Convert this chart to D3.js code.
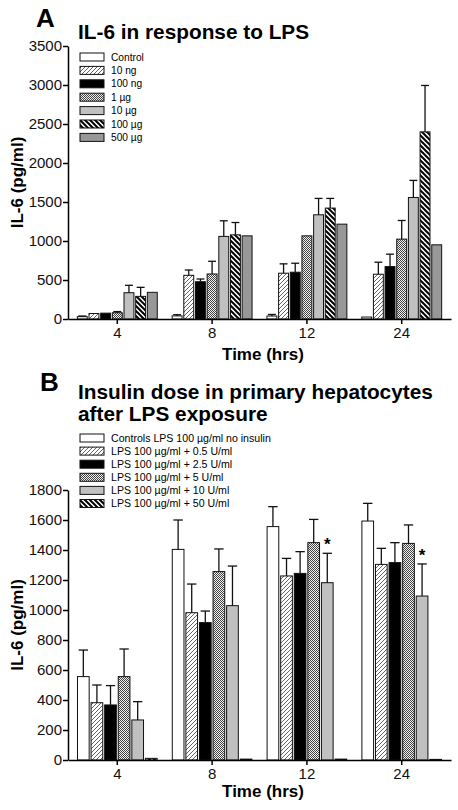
<!DOCTYPE html>
<html>
<head>
<meta charset="utf-8">
<script src="https://cdn.jsdelivr.net/npm/d3@7/dist/d3.min.js"></script>
<style>
  html, body { margin: 0; padding: 0; background: #fff; }
  svg { display: block; font-family: "Liberation Sans", Arial, Helvetica, sans-serif; }
</style>
</head>
<body>
<svg id="chart" width="458" height="810"></svg>
<script>
// ---------------- DATA ----------------
const timesA = ["4", "8", "12", "24"];
const seriesA = ["Control", "10 ng", "100 ng", "1 µg", "10 µg", "100 µg", "500 µg"];
const valuesA = [
  [30, 40, 38, 25],        // Control
  [70, 560, 587, 574],     // 10 ng
  [75, 478, 600, 672],     // 100 ng
  [80, 577, 1066, 1024],   // 1 µg
  [337, 1059, 1336, 1558], // 10 µg
  [290, 1079, 1422, 2399], // 100 µg
  [342, 1066, 1216, 951]   // 500 µg
];
const errorsA = [
  [8, 15, 20, null],
  [null, 68, 120, 154],
  [null, 35, 115, 159],
  [15, 163, null, 239],
  [95, 200, 210, 219],
  [116, 158, 124, 595],
  [null, null, null, null]
];
const ticksA = [0, 500, 1000, 1500, 2000, 2500, 3000, 3500];

const timesB = ["4", "8", "12", "24"];
const seriesB = [
  "Controls LPS 100 µg/ml no insulin",
  "LPS 100 µg/ml + 0.5 U/ml",
  "LPS 100 µg/ml + 2.5 U/ml",
  "LPS 100 µg/ml + 5 U/ml",
  "LPS 100 µg/ml + 10 U/ml",
  "LPS 100 µg/ml + 50 U/ml"
];
const valuesB = [
  [556, 1404, 1556, 1593],
  [382, 982, 1227, 1304],
  [367, 916, 1244, 1316],
  [556, 1256, 1449, 1444],
  [267, 1029, 1182, 1093],
  [11, 6, 6, 4]
];
const errorsB = [
  [177, 196, 133, 118],
  [118, 191, 117, 107],
  [129, 77, 145, 133],
  [184, 151, 155, 123],
  [122, 264, 196, 214],
  [null, null, null, null]
];
const signifB = [
  [false, false, false, false],
  [false, false, false, false],
  [false, false, false, false],
  [false, false, false, false],
  [false, false, true, true],
  [false, false, false, false]
];
const ticksB = [0, 200, 400, 600, 800, 1000, 1200, 1400, 1600, 1800];

// fill styles per series (keys to patterns)
const fillsA = ["white", "url(#diag)", "black", "url(#check)", "#c0c0c0", "url(#stripe)", "#989898"];
const fillsB = ["white", "url(#diag)", "black", "url(#check)", "#c0c0c0", "url(#stripe)"];

// ---------------- SETUP ----------------
const svg = d3.select("#chart");
const defs = svg.append("defs");

// thin "/" diagonal hatching on white
const pDiag = defs.append("pattern").attr("id", "diag").attr("patternUnits", "userSpaceOnUse")
  .attr("width", 4).attr("height", 4);
pDiag.append("rect").attr("width", 4).attr("height", 4).attr("fill", "white");
pDiag.append("path").attr("d", "M-1,1 l2,-2 M0,4 l4,-4 M3,5 l2,-2")
  .attr("stroke", "#222").attr("stroke-width", 0.7);

// fine checkerboard
const pCheck = defs.append("pattern").attr("id", "check").attr("patternUnits", "userSpaceOnUse")
  .attr("width", 2).attr("height", 2);
pCheck.append("rect").attr("width", 2).attr("height", 2).attr("fill", "#f0f0f0");
pCheck.append("rect").attr("x", 0).attr("y", 0).attr("width", 1).attr("height", 1).attr("fill", "#444");
pCheck.append("rect").attr("x", 1).attr("y", 1).attr("width", 1).attr("height", 1).attr("fill", "#444");

// thick "\" black/white stripes
const pStripe = defs.append("pattern").attr("id", "stripe").attr("patternUnits", "userSpaceOnUse")
  .attr("width", 5).attr("height", 5);
pStripe.append("rect").attr("width", 5).attr("height", 5).attr("fill", "white");
pStripe.append("path").attr("d", "M-1,4 l2,2 M0,0 l5,5 M4,-1 l2,2")
  .attr("stroke", "black").attr("stroke-width", 2);

const FONT_TICK = 15;

function drawPanel(opts) {
  const g = svg.append("g");
  const x0 = d3.scaleBand().domain(opts.times).range(opts.xRange)
    .paddingInner(0.12).paddingOuter(0.08);
  const x1 = d3.scaleBand().domain(d3.range(opts.series.length)).range([0, x0.bandwidth()])
    .padding(opts.innerPad);
  const y = d3.scaleLinear().domain(opts.yDomain).range(opts.yRange);

  // bars
  opts.series.forEach((s, si) => {
    const gs = g.append("g");
    gs.selectAll("rect").data(opts.values[si]).join("rect")
      .attr("x", (d, i) => x0(opts.times[i]) + x1(si))
      .attr("y", d => y(d))
      .attr("width", x1.bandwidth())
      .attr("height", d => y(0) - y(d))
      .attr("fill", opts.fills[si])
      .attr("stroke", "#111")
      .attr("stroke-width", 1);
    // error bars
    opts.values[si].forEach((v, i) => {
      const e = opts.errors[si][i];
      if (e == null) return;
      const cx = x0(opts.times[i]) + x1(si) + x1.bandwidth() / 2;
      const capW = x1.bandwidth() * 0.8;
      gs.append("line").attr("x1", cx).attr("x2", cx).attr("y1", y(v)).attr("y2", y(v + e))
        .attr("stroke", "#111").attr("stroke-width", 1.3);
      gs.append("line").attr("x1", cx - capW / 2).attr("x2", cx + capW / 2)
        .attr("y1", y(v + e)).attr("y2", y(v + e))
        .attr("stroke", "#111").attr("stroke-width", 1.3);
      if (opts.signif && opts.signif[si][i]) {
        gs.append("text").attr("x", cx).attr("y", y(v + e) - 3)
          .attr("text-anchor", "middle").attr("font-size", 17).attr("font-weight", "bold")
          .text("*");
      }
    });
  });

  // axes
  const yAxis = d3.axisLeft(y).tickValues(opts.yTicks).tickSize(5).tickSizeOuter(0).tickFormat(d3.format("d"));
  const ya = g.append("g").attr("transform", `translate(${opts.xRange[0]},0)`).call(yAxis);
  ya.select(".domain").attr("stroke-width", 1.5);
  ya.selectAll(".tick line").attr("stroke-width", 1.5);
  ya.selectAll(".tick text").attr("font-size", FONT_TICK).attr("font-family", "Liberation Sans, Arial, sans-serif")
    .attr("x", -6).attr("fill", "#111");

  const xAxis = d3.axisBottom(x0).tickSize(5).tickSizeOuter(0);
  const xa = g.append("g").attr("transform", `translate(0,${y(0)})`).call(xAxis);
  xa.select(".domain").attr("stroke-width", 1.5);
  xa.selectAll(".tick line").attr("stroke-width", 1.5);
  xa.selectAll(".tick text").attr("font-size", FONT_TICK).attr("font-family", "Liberation Sans, Arial, sans-serif")
    .attr("dy", "0.71em").attr("fill", "#111");

  // axis titles
  g.append("text").attr("transform", `translate(23,${(opts.yRange[0] + opts.yRange[1]) / 2}) rotate(-90)`)
    .attr("text-anchor", "middle").attr("font-size", 17).attr("font-weight", "bold").text("IL-6 (pg/ml)");
  g.append("text").attr("x", 263).attr("y", opts.xTitleY)
    .attr("text-anchor", "middle").attr("font-size", 17).attr("font-weight", "bold").text("Time (hrs)");

  // panel letter + title
  g.append("text").attr("x", opts.letterX).attr("y", opts.letterY).attr("font-size", 26)
    .attr("font-weight", "bold").text(opts.letter);
  opts.title.forEach((t, k) => {
    g.append("text").attr("x", 78).attr("y", opts.titleY + k * 22).attr("font-size", 20.8)
      .attr("font-weight", "bold").text(t);
  });

  // legend
  const lg = g.append("g");
  opts.series.forEach((s, si) => {
    const ly = opts.legendY + si * opts.legendStep;
    lg.append("rect").attr("x", 80).attr("y", ly - 4).attr("width", 24).attr("height", 8)
      .attr("fill", opts.fills[si]).attr("stroke", "#111").attr("stroke-width", 1);
    lg.append("text").attr("x", 111).attr("y", ly).attr("dy", "0.35em")
      .attr("font-size", opts.legendFont).text(s);
  });
}

drawPanel({
  times: timesA, series: seriesA, values: valuesA, errors: errorsA, fills: fillsA,
  xRange: [68, 451], yDomain: [0, 3500], yRange: [319, 46], yTicks: ticksA,
  innerPad: 0.15, xTitleY: 360, letter: "A", letterX: 36, letterY: 27,
  title: ["IL-6 in response to LPS"], titleY: 39,
  legendY: 57, legendStep: 13.4, legendFont: 10.2
});

drawPanel({
  times: timesB, series: seriesB, values: valuesB, errors: errorsB, fills: fillsB, signif: signifB,
  xRange: [68, 451], yDomain: [0, 1800], yRange: [760, 490], yTicks: ticksB,
  innerPad: 0.14, xTitleY: 797, letter: "B", letterX: 40, letterY: 391,
  title: ["Insulin dose in primary hepatocytes", "after LPS exposure"], titleY: 399,
  legendY: 438, legendStep: 13.1, legendFont: 10.6
});
</script>
</body>
</html>
